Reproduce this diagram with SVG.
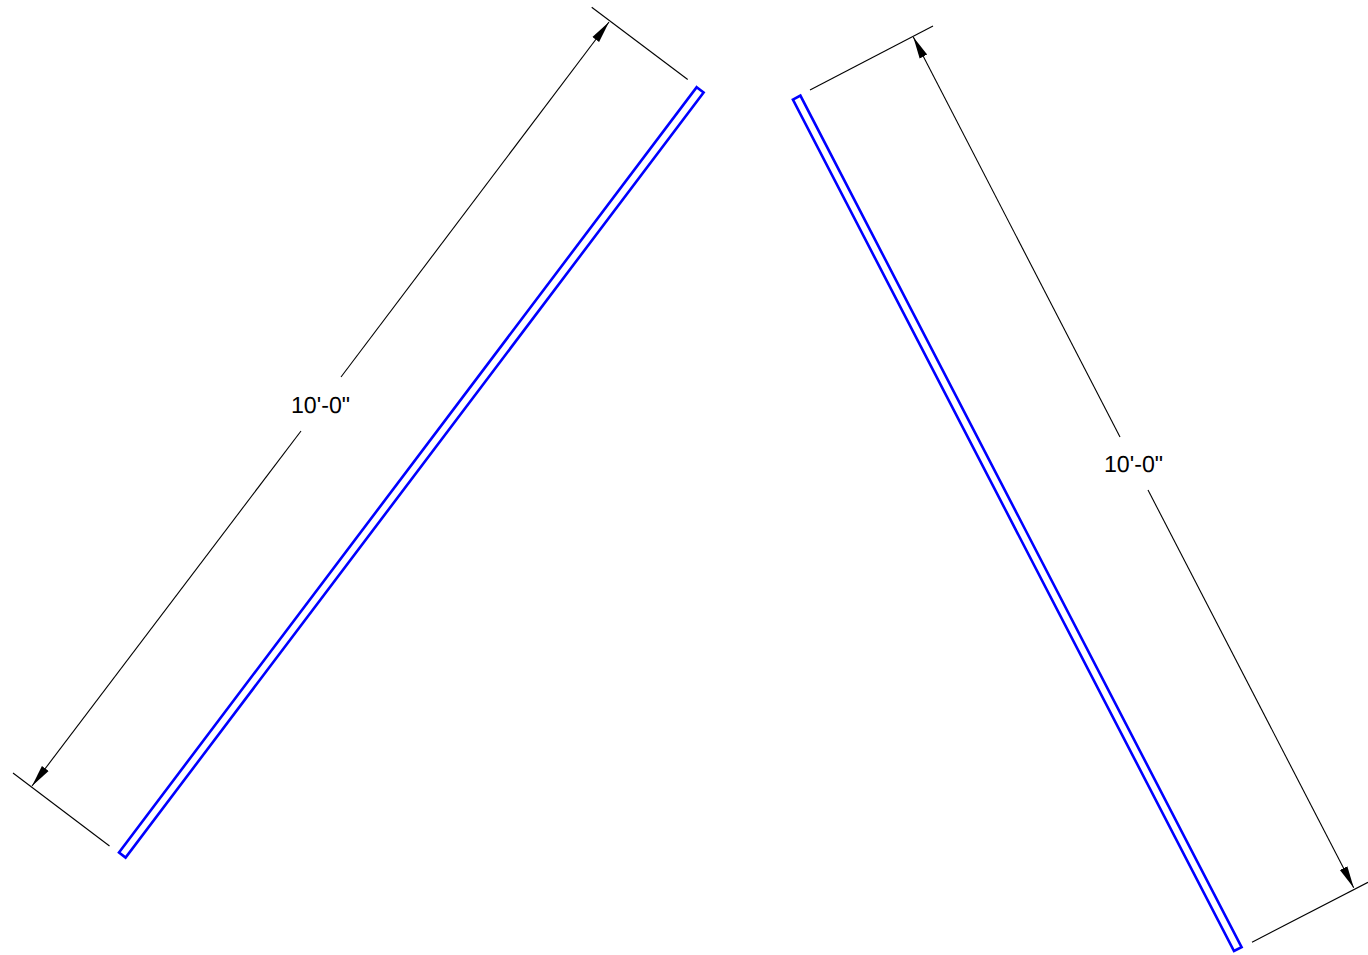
<svg xmlns="http://www.w3.org/2000/svg" width="1368" height="955" viewBox="0 0 1368 955">
<style>
.dim{fill:none;stroke:#000;stroke-width:1.1}
.wall{fill:#fff;stroke:#0000ff;stroke-width:2.6}
.lbl{font-family:"Liberation Sans",Arial,sans-serif;font-size:23.2px;fill:#000;text-anchor:middle;text-rendering:geometricPrecision}
</style>
<defs>
<marker id="arrow" markerUnits="userSpaceOnUse" markerWidth="24" markerHeight="12" refX="22" refY="6" orient="auto">
<path d="M0 1.8L22 6L0 10.2Z" fill="#000"/>
</marker>
</defs>
<rect width="1368" height="955" fill="#fff"/>
<g id="connectors">
<line class="dim" x1="591.7" y1="7.3" x2="687.7" y2="79.5"/>
<line class="dim" x1="13" y1="773" x2="109.5" y2="846"/>
<line class="dim" x1="341" y1="377" x2="609" y2="22" marker-end="url(#arrow)"/>
<line class="dim" x1="301" y1="431" x2="32" y2="786" marker-end="url(#arrow)"/>
<line class="dim" x1="810" y1="90" x2="933" y2="26"/>
<line class="dim" x1="1252" y1="942.3" x2="1368" y2="882.3"/>
<line class="dim" x1="1120" y1="437" x2="913.3" y2="37" marker-end="url(#arrow)"/>
<line class="dim" x1="1148" y1="490" x2="1353.7" y2="887.7" marker-end="url(#arrow)"/>
</g>
<g id="wall-left"><polygon class="wall" points="696.7,87.2 703.6,92.6 125.6,857.6 119,852.4"/></g>
<g id="wall-right"><polygon class="wall" points="792.9,99.6 800.4,95.6 1241.6,947.2 1234,951"/></g>
<g id="label-left"><text class="lbl" x="320.5" y="412.7">10'-0"</text></g>
<g id="label-right"><text class="lbl" x="1133.5" y="471.7">10'-0"</text></g>
</svg>
